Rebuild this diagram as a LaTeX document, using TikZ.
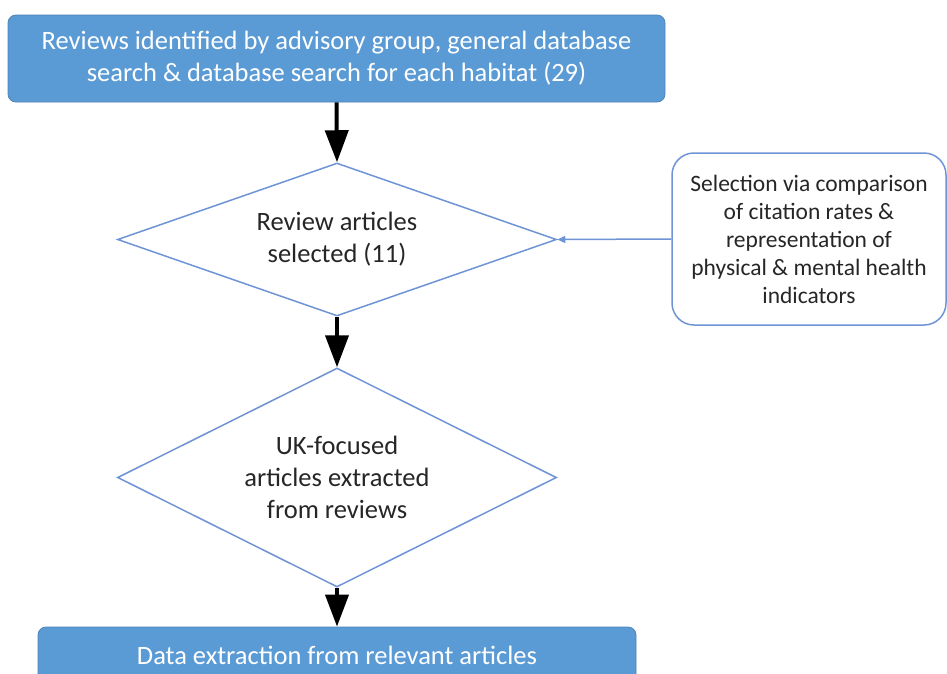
\documentclass[tikz,border=0pt]{standalone}
\usepackage{fontspec}
\setmainfont{Carlito}
\usepackage{xcolor}
\usepackage{tikz}
\usetikzlibrary{shapes.geometric,arrows.meta}
\definecolor{boxblue}{HTML}{5B9BD5}
\definecolor{lineblue}{HTML}{6F94D6}

\begin{document}
\begin{tikzpicture}[x=1pt,y=-1pt,
    stage/.style={rectangle,rounded corners=8pt,fill=boxblue,draw=boxblue!85!black,line width=0.8pt,text=white,align=center,font=\fontsize{26.5}{32}\selectfont},
    choice/.style={diamond,draw=lineblue,line width=1.5pt,align=center,inner sep=0pt,text=black!85,font=\fontsize{26.5}{32}\selectfont},
    note/.style={rectangle,rounded corners=22pt,draw=lineblue,line width=1.5pt,align=center,text=black!85,font=\fontsize{23.5}{28}\selectfont},
    flow/.style={-{Triangle[length=32pt,width=23pt]},line width=4pt}]
    \useasboundingbox (0,0) rectangle (947,673);
    \clip (0,0) rectangle (947,673);
    \node[stage,minimum width=657pt,minimum height=87pt] (reviews) at (336.5,58.5) {Reviews identified by advisory group, general database\\search \& database search for each habitat (29)};
    \node[choice,shape aspect=2.9,minimum width=439pt,minimum height=153pt] (selected) at (337,239.5) {Review articles\\selected (11)};
    \node[choice,shape aspect=2,minimum width=439pt,minimum height=219pt] (ukfocused) at (337,477.5) {UK-focused\\articles extracted\\from reviews};
    \node[stage,minimum width=598pt,minimum height=56pt] (extraction) at (337,655) {Data extraction from relevant articles};
    \node[note,minimum width=274pt,minimum height=172pt] (criteria) at (809,239) {Selection via comparison\\of citation rates \&\\representation of\\physical \& mental health\\indicators};
    \draw[flow] (reviews.south) -- (selected.north);
    \draw[flow] (selected.south) -- (ukfocused.north);
    \draw[flow] (ukfocused.south) -- (extraction.north);
    \draw[-{Triangle[length=8pt,width=7pt]},lineblue,line width=1.5pt] (criteria.west) -- (selected.east);
\end{tikzpicture}
\end{document}
